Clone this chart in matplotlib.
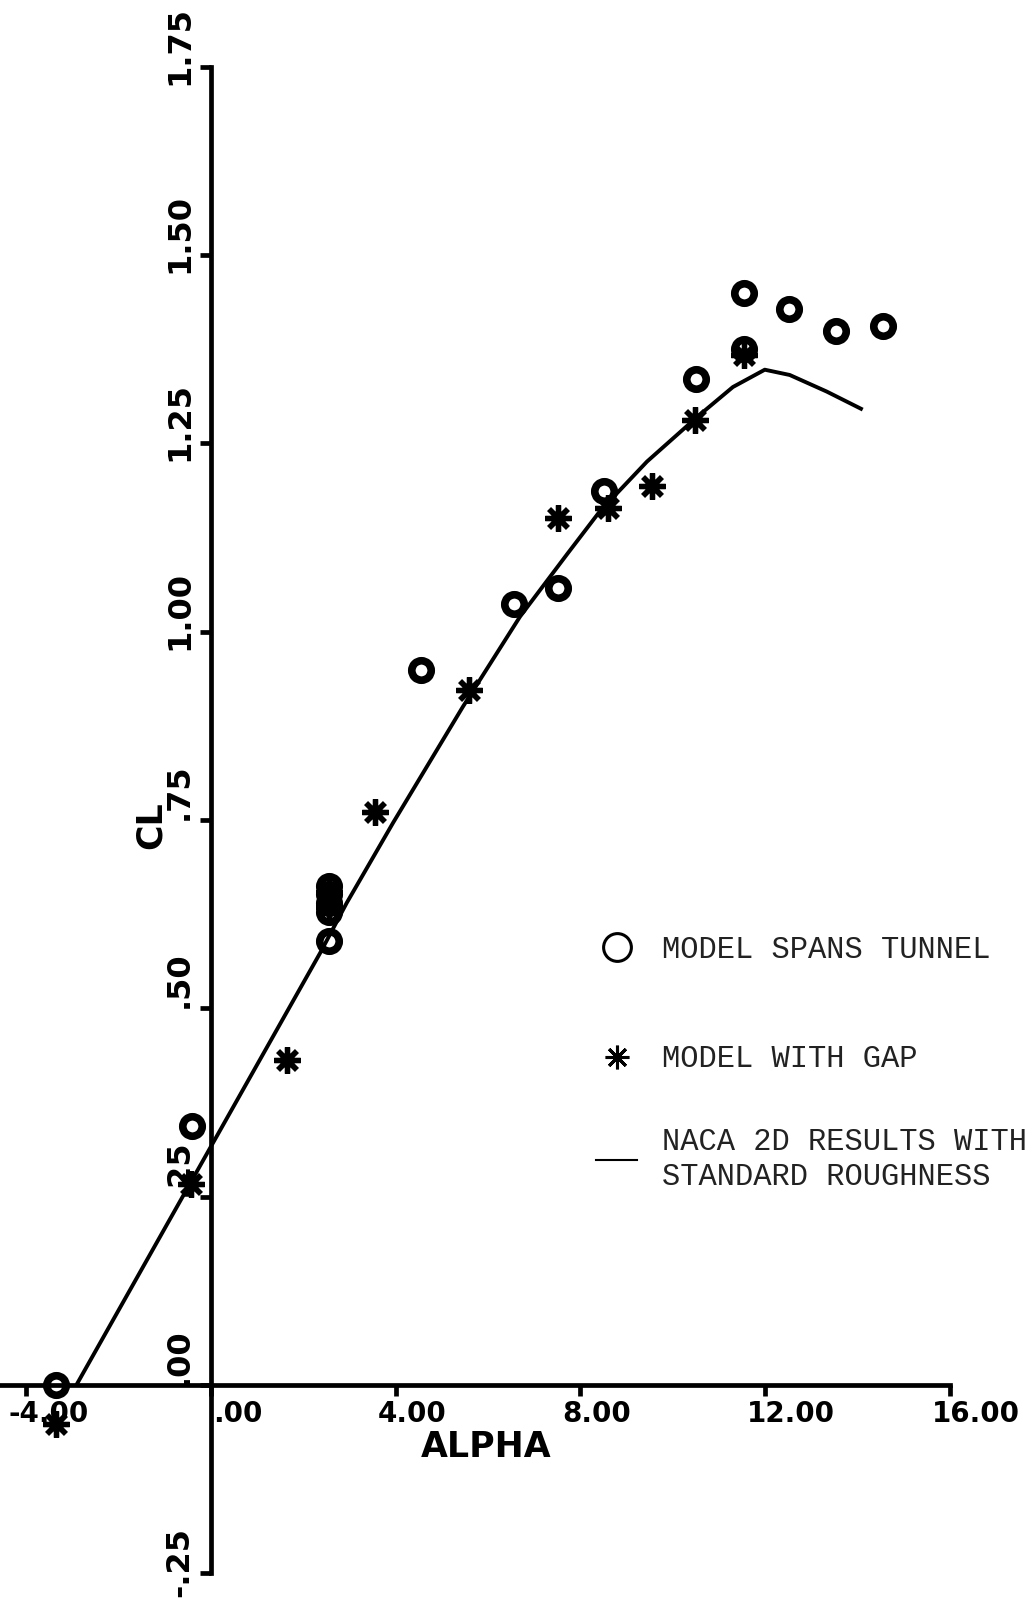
import matplotlib
matplotlib.use("Agg")
import matplotlib.pyplot as plt
from matplotlib.lines import Line2D
from matplotlib.transforms import offset_copy

# ---- data -------------------------------------------------------------
# Model spans tunnel (open circles)
span_alpha = [-3.35, -0.42, 2.55, 2.55, 2.55, 2.55, 2.55, 4.54, 6.56, 7.52,
              8.52, 10.50, 11.53, 11.53, 12.52, 13.54, 14.55]
span_cl = [0.000, 0.343, 0.589, 0.628, 0.640, 0.652, 0.662, 0.949, 1.037, 1.058,
           1.187, 1.336, 1.375, 1.450, 1.429, 1.400, 1.406]

# Model with gap (asterisks)
gap_alpha = [-3.35, -0.44, 1.65, 2.55, 2.55, 3.55, 5.58, 7.52, 8.60, 9.55,
             10.49, 11.53]
gap_cl = [-0.052, 0.267, 0.431, 0.635, 0.655, 0.760, 0.922, 1.151, 1.165, 1.194,
          1.281, 1.368]

# NACA 2D results with standard roughness (solid curve)
naca_alpha = [-2.91, 2.36, 2.94, 3.94, 5.45, 6.69, 7.71, 8.42,
              9.44, 10.54, 11.30, 11.99, 12.53, 13.33, 14.11]
naca_cl = [0.000, 0.573, 0.640, 0.746, 0.900, 1.020, 1.103, 1.160,
           1.226, 1.286, 1.325, 1.348, 1.341, 1.319, 1.295]

x_ticks = [-4, 0, 4, 8, 12, 16]
x_ticklabels = ["-4.00", ".00", "4.00", "8.00", "12.00", "16.00"]
y_ticks = [-0.25, 0.0, 0.25, 0.5, 0.75, 1.0, 1.25, 1.5, 1.75]
y_ticklabels = ["-.25", ".00", ".25", ".50", ".75", "1.00", "1.25", "1.50", "1.75"]

legend_labels = ["MODEL SPANS TUNNEL", "MODEL WITH GAP",
                 "NACA 2D RESULTS WITH\nSTANDARD ROUGHNESS"]

# ---- figure -----------------------------------------------------------
W, H = 1033, 1598
fig = plt.figure(figsize=(W / 100, H / 100), dpi=100)
ax = fig.add_axes([0, 25 / H, 950 / W, (1573 - 67) / H])
ax.patch.set_visible(False)
ax.set_xlim(-4.567, 16)
ax.set_ylim(-0.25, 1.75)

for side in ("top", "right"):
    ax.spines[side].set_visible(False)
ax.spines["left"].set_position(("data", 0))
ax.spines["bottom"].set_position(("data", 0))
for side in ("left", "bottom"):
    ax.spines[side].set_linewidth(3.4)
    ax.spines[side].set_capstyle("projecting")

ax.set_xticks(x_ticks)
ax.set_yticks(y_ticks)
ax.tick_params(axis="both", direction="out", length=8, width=3.4,
               labelbottom=False, labelleft=False)

tick_font = dict(family="DejaVu Sans", weight="bold", color="black")

# x tick labels: left-aligned just before each tick, below the axis
for v, lab in zip(x_ticks, x_ticklabels):
    dx = 2 if lab.startswith(".") else -18
    tr = offset_copy(ax.transData, fig=fig, x=dx, y=-15, units="dots")
    ax.text(v, 0, lab, transform=tr, ha="left", va="top", fontsize=20, **tick_font)

# y tick labels: rotated, reading upward, left of the axis
for v, lab in zip(y_ticks, y_ticklabels):
    if lab.startswith("-"):
        dy = -24
    elif lab.startswith("."):
        dy = 0
    else:
        dy = -18
    tr = offset_copy(ax.transData, fig=fig, x=-23, y=dy, units="dots")
    ax.text(0, v, lab, transform=tr, rotation=90, rotation_mode="anchor",
            ha="left", va="baseline", fontsize=23, **tick_font)

# axis titles
fig.text(151 / W, 1 - 825 / H, "CL", rotation=90, ha="center", va="center",
         fontsize=25, **tick_font)
fig.text(486 / W, 1 - 1447 / H, "ALPHA", ha="center", va="center",
         fontsize=25, **tick_font)

# ---- marks ------------------------------------------------------------
ax.plot(naca_alpha, naca_cl, color="black", lw=2.8, solid_capstyle="butt",
        solid_joinstyle="round", clip_on=False, zorder=2)
ax.plot(span_alpha, span_cl, ls="none", marker="o", ms=14, mfc="none",
        mec="black", mew=5.5, clip_on=False, zorder=3)
ax.plot(gap_alpha, gap_cl, ls="none", marker=(8, 2, 0), ms=19, color="black",
        mew=3.8, clip_on=False, zorder=3)

# ---- legend -----------------------------------------------------------
leg_font = {"family": "Liberation Mono", "size": 22}
leg_kw = dict(loc="upper left", frameon=False, prop=leg_font,
              handlelength=1.35, handletextpad=0.8, borderpad=0, borderaxespad=0)

marker_handles = [
    Line2D([], [], ls="none", marker="o", ms=20, mfc="none", mec="black", mew=2.2),
    Line2D([], [], ls="none", marker=(8, 2, 0), ms=17, color="black", mew=2.2),
]
leg1 = fig.legend(marker_handles, legend_labels[:2],
                  bbox_to_anchor=(596 / W, 1 - 935 / H), labelspacing=2.6,
                  **leg_kw)
leg2 = fig.legend([Line2D([], [], color="black", lw=1.5)], legend_labels[2:],
                  bbox_to_anchor=(596 / W, 1 - 1127 / H), **leg_kw)
for lg in (leg1, leg2):
    for t in lg.get_texts():
        t.set_color("#222222")

fig.savefig("out.png", dpi=100)
